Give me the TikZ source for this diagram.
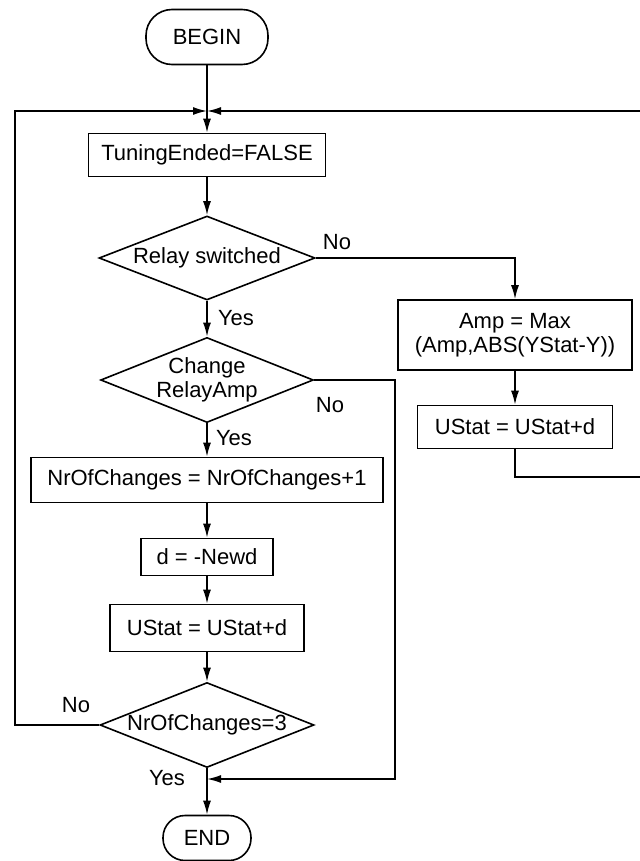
\documentclass[tikz,border=0pt]{standalone}
\usepackage{fontspec}
\setmainfont{Liberation Sans}
\usepackage{tikz}
\usetikzlibrary{arrows.meta,shapes.geometric,calc}

\begin{document}
\begin{tikzpicture}[
    x=0.5pt, y=-0.5pt,
    every node/.style={font=\fontsize{11}{12}\selectfont},
    terminal/.style={draw, line width=0.8pt, rounded corners=11pt, inner sep=0pt},
    process/.style={draw, line width=0.8pt, inner sep=0pt, align=center},
    decision/.style={draw, diamond, aspect=2.5, line width=0.8pt, inner sep=0pt, align=center},
    answer/.style={inner sep=0pt},
    arrow/.style={-{Latex[length=7pt,width=4pt]}, line width=0.8pt},
    wire/.style={line width=0.8pt}
]
\useasboundingbox (0,0) rectangle (640,861);

% Main column
\node[terminal, rounded corners=13pt, minimum width=61pt, minimum height=27.5pt] (begin) at (207,37) {BEGIN};
\node[process, minimum width=118.5pt, minimum height=21.5pt] (tuning) at (207,155) {TuningEnded=FALSE};
\node[decision, minimum width=108pt, minimum height=42pt] (relay) at (207,258) {Relay switched};
\node[decision, minimum width=106pt, minimum height=42.5pt] (change) at (207,380) {Change\\RelayAmp};
\node[process, minimum width=176pt, minimum height=22.5pt] (count) at (207,480) {NrOfChanges = NrOfChanges+1};
\node[process, minimum width=66pt, minimum height=18.5pt] (newd) at (207,557) {d = -Newd};
\node[process, minimum width=97pt, minimum height=23.5pt] (ustatL) at (207,628) {UStat = UStat+d};
\node[decision, minimum width=107pt, minimum height=42.5pt] (three) at (207,725) {NrOfChanges=3};
\node[terminal, minimum width=44pt, minimum height=22.5pt] (end) at (207,838) {END};

% Right column
\node[process, minimum width=117pt, minimum height=35pt] (amp) at (515,335) {Amp = Max\\(Amp,ABS(YStat-Y))};
\node[process, minimum width=97.5pt, minimum height=21.5pt] (ustatR) at (515,427) {UStat = UStat+d};

% Junctions
\coordinate (join) at (207,111);
\coordinate (merge) at (207,779);

% Edges
\draw[arrow] (begin) -- (tuning);
\draw[arrow] (tuning) -- (relay);
\draw[arrow] (relay) -- (change);
\draw[arrow] (relay.east) -| (amp.north);
\draw[arrow] (change) -- (count);
\draw[arrow] (change.east) -| (395,779) -- (merge);
\draw[arrow] (count) -- (newd);
\draw[arrow] (newd) -- (ustatL);
\draw[arrow] (ustatL) -- (three);
\draw[arrow] (three) -- (end);
\draw[arrow] (three.west) -| (15,111) -- (join);
\draw[arrow] (amp) -- (ustatR);
\draw[arrow] (ustatR.south) |- (700,477) |- (join);

% Labels
\node[answer] (noA) at (337,242) {No};
\node[answer] (yesA) at (236,318) {Yes};
\node[answer] (noB) at (330,405) {No};
\node[answer] (yesB) at (234,438) {Yes};
\node[answer] (noC) at (76,705) {No};
\node[answer] (yesC) at (167,778) {Yes};
\end{tikzpicture}
\end{document}
